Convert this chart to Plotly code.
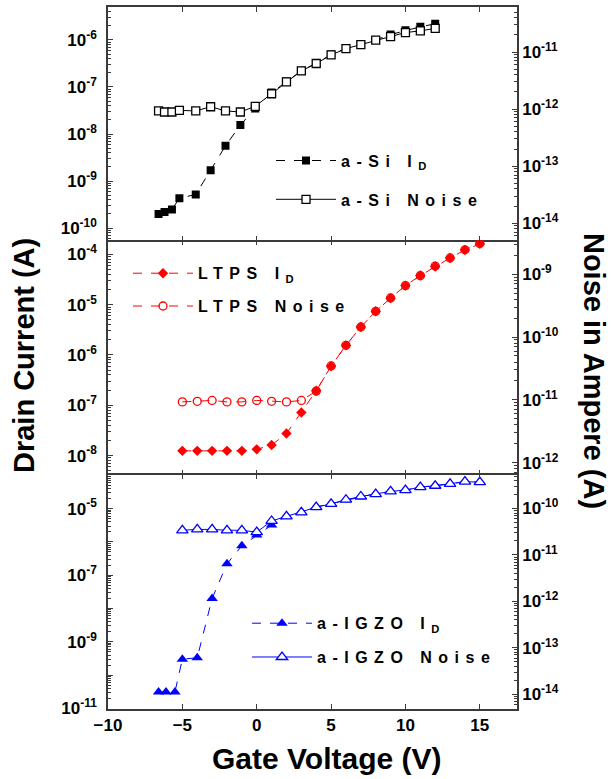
import math
import plotly.graph_objects as go

# ---------------- data ----------------
gate_asi = [-6.6, -6.2, -5.7, -5.2, -4.1, -3.1, -2.1, -1.1, -0.1, 1, 2, 3, 4, 5, 6, 7, 8, 9, 10, 11, 12]
id_asi = [2.0e-10, 2.2e-10, 2.5e-10, 4.3e-10, 5.2e-10, 1.7e-9, 5.6e-9, 1.55e-8, 3.5e-8, 7.6e-8,
          1.3e-7, 2.2e-7, 3.2e-7, 4.9e-7, 6.6e-7, 8.1e-7, 1.0e-6, 1.3e-6, 1.6e-6, 1.9e-6, 2.2e-6]
noise_asi = [9.3e-13, 8.9e-13, 8.9e-13, 9.5e-13, 9.3e-13, 1.1e-12, 9.3e-13, 8.9e-13, 1.12e-12, 1.86e-12,
             3.0e-12, 4.7e-12, 6.3e-12, 8.9e-12, 1.15e-11, 1.35e-11, 1.62e-11, 1.86e-11, 2.2e-11, 2.35e-11, 2.6e-11]

gate_ltps = [-5, -4, -3, -2, -1, 0, 1, 2, 3, 4, 5, 6, 7, 8, 9, 10, 11, 12, 13, 14, 15]
id_ltps = [1.24e-8, 1.24e-8, 1.24e-8, 1.24e-8, 1.24e-8, 1.33e-8, 1.62e-8, 2.75e-8, 7.2e-8, 1.95e-7,
           6.0e-7, 1.55e-6, 3.6e-6, 7.4e-6, 1.35e-5, 2.4e-5, 3.8e-5, 5.75e-5, 8.5e-5, 1.23e-4, 1.62e-4]
noise_ltps = [9.3e-12, 9.5e-12, 9.8e-12, 9.3e-12, 9.3e-12, 9.8e-12, 9.5e-12, 9.3e-12, 9.8e-12, 1.38e-11,
              3.47e-11, 7.4e-11, 1.45e-10, 2.57e-10, 4.2e-10, 6.6e-10, 9.5e-10, 1.35e-9, 1.82e-9, 2.45e-9, 3.1e-9]

gate_igzo_id = [-6.6, -6.1, -5.5, -5, -4, -3, -2, -1, 0, 1, 2, 3, 4, 5, 6, 7, 8, 9, 10, 11, 12, 13, 14, 15]
id_igzo = [3.1e-11, 3.1e-11, 3.1e-11, 3.0e-10, 3.3e-10, 2.0e-8, 2.2e-7, 7.6e-7, 1.6e-6, 3.2e-6,
           6.0e-6, 7.9e-6, 1.12e-5, 1.41e-5, 1.86e-5, 2.3e-5, 2.8e-5, 3.3e-5, 3.6e-5, 4.4e-5,
           4.9e-5, 5.5e-5, 6.5e-5, 6.2e-5]
gate_igzo_noise = [-5, -4, -3, -2, -1, 0, 1, 2, 3, 4, 5, 6, 7, 8, 9, 10, 11, 12, 13, 14, 15]
noise_igzo = [3.4e-11, 3.55e-11, 3.55e-11, 3.4e-11, 3.4e-11, 3.1e-11, 5.4e-11, 6.8e-11, 8.3e-11, 1.07e-10,
              1.26e-10, 1.55e-10, 1.82e-10, 2.04e-10, 2.34e-10, 2.5e-10, 2.9e-10, 3.1e-10, 3.4e-10, 3.8e-10, 3.7e-10]

x_ticks = [-10, -5, 0, 5, 10, 15]

# ---------------- styling ----------------
FONT = "Liberation Sans, Arial, sans-serif"
AX = "#3a3a3a"
W, H = 612, 779
L, R, T, B = 108, 95, 5, 70
PW, PH = W - L - R, H - T - B


def px_x(px):
    return (px - L) / PW


def px_y(py):
    return (H - B - py) / PH


def sp(t):
    return '<span style="letter-spacing:6.5px">' + t + '</span>'


fig = go.Figure()

# a-Si
fig.add_trace(go.Scatter(x=gate_asi, y=id_asi, name=sp("a-Si I<sub>D</sub>"), xaxis="x", yaxis="y",
                         mode="lines+markers", line=dict(color="black", width=1, dash="dash"),
                         marker=dict(symbol="square", size=8, color="black"),
                         legend="legend", legendgroup="a1"))
fig.add_trace(go.Scatter(x=gate_asi, y=noise_asi, name=sp("a-Si Noise"), xaxis="x", yaxis="y2",
                         mode="lines+markers", line=dict(color="black", width=1),
                         marker=dict(symbol="square", size=8, color="white", line=dict(color="black", width=1.3)),
                         legend="legend", legendgroup="a2"))
# LTPS
fig.add_trace(go.Scatter(x=gate_ltps, y=id_ltps, name=sp("LTPS I<sub>D</sub>"), xaxis="x2", yaxis="y3",
                         mode="lines+markers", line=dict(color="red", width=1, dash="dash"),
                         marker=dict(symbol="diamond", size=8, color="red"),
                         legend="legend2", legendgroup="b1"))
fig.add_trace(go.Scatter(x=gate_ltps, y=noise_ltps, name=sp("LTPS Noise"), xaxis="x2", yaxis="y4",
                         mode="lines+markers", line=dict(color="red", width=1, dash="dash"),
                         marker=dict(symbol="circle-open", size=8, color="red", line=dict(width=1.3)),
                         legend="legend2", legendgroup="b2"))
# a-IGZO
fig.add_trace(go.Scatter(x=gate_igzo_id, y=id_igzo, name=sp("a-IGZO I<sub>D</sub>"), xaxis="x3", yaxis="y5",
                         mode="lines+markers", line=dict(color="blue", width=1, dash="dash"),
                         marker=dict(symbol="triangle-up", size=10, color="blue"),
                         legend="legend3", legendgroup="c1"))
fig.add_trace(go.Scatter(x=gate_igzo_noise, y=noise_igzo, name=sp("a-IGZO Noise"), xaxis="x3", yaxis="y6",
                         mode="lines+markers", line=dict(color="blue", width=1),
                         marker=dict(symbol="triangle-up", size=10, color="white", line=dict(color="blue", width=1.3)),
                         legend="legend3", legendgroup="c2"))


def minor_vals(rng):
    vals = []
    for e in range(int(rng[0]) - 2, int(rng[1]) + 2):
        for k in range(2, 10):
            v = k * 10.0 ** e
            lv = math.log10(v)
            if rng[0] < lv < rng[1]:
                vals.append(v)
    return vals


def sup(e):
    return "10<sup>%d</sup>" % e


tickfont = dict(family=FONT, size=17, color="black", weight="bold")


def yax(rng, exps, labels, dom, side, overlay=None, anchor="x"):
    d = dict(type="log", range=rng, domain=dom, side=side, anchor=anchor,
             showline=True, linecolor=AX, linewidth=1.6, ticks="inside", ticklen=5, tickwidth=1.2,
             tickcolor=AX, tickmode="array", tickvals=[10.0 ** e for e in exps],
             ticktext=labels, tickfont=tickfont, showgrid=False, zeroline=False,
             ticklabelstandoff=6 if side == "left" else 0,
             minor=dict(ticks="inside", ticklen=3, tickcolor=AX, tickwidth=1,
                        tickmode="array", tickvals=minor_vals(rng), showgrid=False))
    if overlay:
        d["overlaying"] = overlay
    return d


def xax(anchor, labels, line, match=None):
    d = dict(range=[-10, 17.5], anchor=anchor, domain=[0, 1], showline=line, linecolor=AX, linewidth=1.6,
             mirror="ticks", ticks="inside", ticklen=5, tickwidth=1.2, tickcolor=AX,
             tickmode="array", tickvals=x_ticks, showticklabels=labels,
             tickfont=dict(family=FONT, size=17, color="black", weight="bold"),
             showgrid=False, zeroline=False)
    if match:
        d["matches"] = match
    return d


d1 = [px_y(239), 1]
d2 = [px_y(474), px_y(239)]
d3 = [0, px_y(474)]

e1 = [-6, -7, -8, -9, -10]
e2 = [-11, -12, -13, -14]
e3 = [-4, -5, -6, -7, -8]
e4 = [-9, -10, -11, -12]
e5 = [-5, -6, -7, -8, -9, -10, -11]
e6 = [-10, -11, -12, -13, -14]

legfont = dict(family=FONT, size=16, color="black", weight="bold")

fig.update_layout(
    width=W, height=H, margin=dict(l=L, r=R, t=T, b=B),
    paper_bgcolor="white", plot_bgcolor="white",
    xaxis=xax("y", False, True),
    xaxis2=xax("y3", False, False, "x"),
    xaxis3=xax("y5", True, True, "x"),
    yaxis=yax([-10.26, -5.3], e1, [sup(e) for e in e1], d1, "left", anchor="x"),
    yaxis2=yax([-14.3, -10.21], e2, [sup(e) for e in e2], d1, "right", "y", anchor="x"),
    yaxis3=yax([-8.38, -3.72], e3, [sup(e) for e in e3], d2, "left", anchor="x2"),
    yaxis4=yax([-12.19, -8.46], e4, [sup(e) for e in e4], d2, "right", "y3", anchor="x2"),
    yaxis5=yax([-11.02, -3.98], e5, [sup(e) if e % 2 else "" for e in e5], d3, "left", anchor="x3"),
    yaxis6=yax([-14.32, -9.27], e6, [sup(e) for e in e6], d3, "right", "y5", anchor="x3"),
    legend=dict(x=px_x(271), y=px_y(142), xanchor="left", yanchor="top", bgcolor="rgba(0,0,0,0)",
                font=legfont, itemwidth=60, tracegroupgap=15, traceorder="grouped"),
    legend2=dict(x=px_x(128), y=px_y(255), xanchor="left", yanchor="top", bgcolor="rgba(0,0,0,0)",
                 font=legfont, itemwidth=60, tracegroupgap=9, traceorder="grouped"),
    legend3=dict(x=px_x(247), y=px_y(606), xanchor="left", yanchor="top", bgcolor="rgba(0,0,0,0)",
                 font=legfont, itemwidth=60, tracegroupgap=10, traceorder="grouped"),
    showlegend=True,
)

title_font = dict(family=FONT, size=29, color="black", weight="bold")
fig.add_annotation(text="Drain Current (A)", xref="paper", yref="paper", x=px_x(24), y=px_y(355),
                   showarrow=False, textangle=-90, font=title_font, xanchor="center", yanchor="middle")
fig.add_annotation(text="Noise in Ampere (A)", xref="paper", yref="paper", x=px_x(594), y=px_y(370),
                   showarrow=False, textangle=90, font=title_font, xanchor="center", yanchor="middle")
fig.add_annotation(text="Gate Voltage (V)", xref="paper", yref="paper", x=px_x(326), y=px_y(759),
                   showarrow=False, font=dict(family=FONT, size=30, color="black", weight="bold"),
                   xanchor="center", yanchor="middle")

fig.write_html("out.html", config={"displayModeBar": False},
               post_script="document.body.style.margin='0px';")
